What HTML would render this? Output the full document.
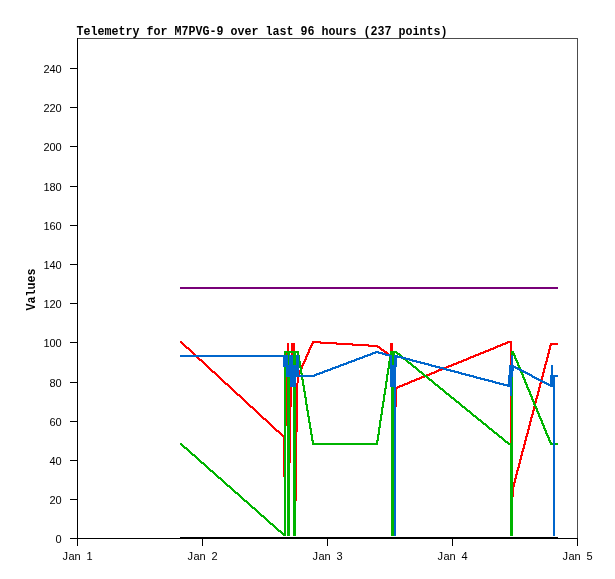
<!DOCTYPE html>
<html lang="en">
<head>
<meta charset="utf-8">
<title>Telemetry for M7PVG-9 over last 96 hours (237 points)</title>
<style>
html,body{margin:0;padding:0;background:#fff;}
body{width:615px;height:579px;overflow:hidden;}
svg{display:block;}
text{font-family:"Liberation Mono","DejaVu Sans Mono",monospace;fill:#000;}
.t{font-weight:bold;font-size:12px;}
.l{font-family:"Liberation Sans","DejaVu Sans",sans-serif;font-size:11px;}
</style>
</head>
<body>
<svg width="615" height="579" viewBox="0 0 615 579" shape-rendering="crispEdges">
<rect width="615" height="579" fill="#fff"/>
<g id="frame">
<rect x="77" y="38" width="501" height="1" fill="#4c4c4c"/>
<rect x="577" y="38" width="1" height="501" fill="#4c4c4c"/>
<rect x="77" y="38" width="1" height="508" fill="#000"/>
<rect x="70" y="538" width="508" height="1" fill="#000"/>
</g>
<g id="yticks" fill="#000">
<rect x="70" y="499" width="7" height="1"/>
<rect x="70" y="460" width="7" height="1"/>
<rect x="70" y="421" width="7" height="1"/>
<rect x="70" y="382" width="7" height="1"/>
<rect x="70" y="342" width="7" height="1"/>
<rect x="70" y="303" width="7" height="1"/>
<rect x="70" y="264" width="7" height="1"/>
<rect x="70" y="225" width="7" height="1"/>
<rect x="70" y="186" width="7" height="1"/>
<rect x="70" y="146" width="7" height="1"/>
<rect x="70" y="107" width="7" height="1"/>
<rect x="70" y="68" width="7" height="1"/>
</g>
<g id="xticks" fill="#000">
<rect x="202" y="539" width="1" height="7"/>
<rect x="327" y="539" width="1" height="7"/>
<rect x="452" y="539" width="1" height="7"/>
<rect x="577" y="539" width="1" height="7"/>
</g>
<g id="series">
<path fill="#ff0000" d="M180 341h2v1h-2zM312 341h9v1h-9zM507 341h5v1h-5zM180 342h3v1h-3zM312 342h25v1h-25zM505 342h7v1h-7zM181 343h3v1h-3zM287 343h2v8h-2zM291 343h4v8h-4zM311 343h3v1h-3zM320 343h33v1h-33zM390 343h3v8h-3zM502 343h6v1h-6zM510 343h2v8h-2zM550 343h8v2h-8zM182 344h3v1h-3zM311 344h2v1h-2zM336 344h33v1h-33zM500 344h6v1h-6zM183 345h3v1h-3zM310 345h3v1h-3zM352 345h26v1h-26zM497 345h6v1h-6zM549 345h3v1h-3zM184 346h3v1h-3zM310 346h2v1h-2zM368 346h12v1h-12zM495 346h6v1h-6zM549 346h2v3h-2zM185 347h4v1h-4zM309 347h3v1h-3zM377 347h4v1h-4zM493 347h5v1h-5zM186 348h4v1h-4zM309 348h2v1h-2zM379 348h3v1h-3zM490 348h6v1h-6zM188 349h3v1h-3zM308 349h3v1h-3zM380 349h4v1h-4zM488 349h6v1h-6zM548 349h3v1h-3zM189 350h3v1h-3zM308 350h2v2h-2zM381 350h4v1h-4zM485 350h6v1h-6zM548 350h2v3h-2zM190 351h3v1h-3zM383 351h4v1h-4zM483 351h6v1h-6zM510 351h1v14h-1zM191 352h3v1h-3zM307 352h3v1h-3zM384 352h4v1h-4zM480 352h6v1h-6zM192 353h3v1h-3zM286 353h1v2h-1zM291 353h2v2h-2zM307 353h2v1h-2zM386 353h3v1h-3zM478 353h6v1h-6zM547 353h3v1h-3zM193 354h3v1h-3zM306 354h3v1h-3zM475 354h6v1h-6zM547 354h2v3h-2zM306 355h2v1h-2zM473 355h6v1h-6zM305 356h3v1h-3zM470 356h6v1h-6zM196 357h3v1h-3zM305 357h2v2h-2zM468 357h6v1h-6zM546 357h3v1h-3zM197 358h3v1h-3zM466 358h5v1h-5zM546 358h2v3h-2zM198 359h4v1h-4zM304 359h3v1h-3zM463 359h6v1h-6zM199 360h4v1h-4zM304 360h2v1h-2zM461 360h6v1h-6zM201 361h3v1h-3zM303 361h3v1h-3zM458 361h6v1h-6zM545 361h3v1h-3zM202 362h3v1h-3zM303 362h2v1h-2zM456 362h6v1h-6zM545 362h2v2h-2zM203 363h3v1h-3zM302 363h3v1h-3zM453 363h6v1h-6zM204 364h3v1h-3zM302 364h2v1h-2zM451 364h6v1h-6zM544 364h3v1h-3zM205 365h3v1h-3zM301 365h3v1h-3zM448 365h6v1h-6zM544 365h2v3h-2zM206 366h3v1h-3zM301 366h2v1h-2zM446 366h6v1h-6zM207 367h3v1h-3zM302 367h1v2h-1zM444 367h5v1h-5zM208 368h3v1h-3zM543 368h3v1h-3zM209 369h3v1h-3zM438 369h5v1h-5zM543 369h2v3h-2zM210 370h3v1h-3zM299 370h1v5h-1zM436 370h6v1h-6zM211 371h4v1h-4zM434 371h5v1h-5zM212 372h4v1h-4zM431 372h6v1h-6zM542 372h3v1h-3zM214 373h3v1h-3zM429 373h6v1h-6zM542 373h2v3h-2zM215 374h3v1h-3zM426 374h6v1h-6zM216 375h3v1h-3zM427 375h3v1h-3zM217 376h3v1h-3zM421 376h3v1h-3zM541 376h3v1h-3zM218 377h3v1h-3zM286 377h1v49h-1zM297 377h2v6h-2zM419 377h6v1h-6zM541 377h2v3h-2zM219 378h3v1h-3zM416 378h6v1h-6zM220 379h3v1h-3zM414 379h6v1h-6zM221 380h3v1h-3zM411 380h6v1h-6zM222 381h3v1h-3zM409 381h6v1h-6zM223 382h3v1h-3zM407 382h5v1h-5zM540 382h2v1h-2zM224 383h4v1h-4zM296 383h2v49h-2zM404 383h6v1h-6zM539 383h3v1h-3zM225 384h4v1h-4zM402 384h6v1h-6zM539 384h2v3h-2zM227 385h3v1h-3zM399 385h6v1h-6zM228 386h3v1h-3zM397 386h6v1h-6zM229 387h3v1h-3zM290 387h2v20h-2zM396 387h4v1h-4zM538 387h3v1h-3zM230 388h3v1h-3zM396 388h2v1h-2zM538 388h2v3h-2zM231 389h3v1h-3zM396 389h1v18h-1zM232 390h3v1h-3zM233 391h3v1h-3zM537 391h3v1h-3zM234 392h3v1h-3zM537 392h2v3h-2zM235 393h3v1h-3zM236 394h4v1h-4zM237 395h4v1h-4zM536 395h3v1h-3zM239 396h3v1h-3zM510 396h1v47h-1zM536 396h2v2h-2zM240 397h3v1h-3zM241 398h3v1h-3zM535 398h3v1h-3zM242 399h3v1h-3zM535 399h2v4h-2zM243 400h3v1h-3zM244 401h3v1h-3zM245 402h3v1h-3zM246 403h3v1h-3zM535 403h1v1h-1zM247 404h3v1h-3zM248 405h3v1h-3zM249 406h4v1h-4zM533 406h1v1h-1zM250 407h4v1h-4zM290 407h1v56h-1zM533 407h2v3h-2zM252 408h3v1h-3zM253 409h3v1h-3zM254 410h3v1h-3zM532 410h3v1h-3zM255 411h3v1h-3zM532 411h2v3h-2zM256 412h3v1h-3zM257 413h3v1h-3zM258 414h3v1h-3zM531 414h3v1h-3zM259 415h3v1h-3zM531 415h2v2h-2zM260 416h3v1h-3zM261 417h3v1h-3zM530 417h3v1h-3zM262 418h4v1h-4zM530 418h2v3h-2zM263 419h4v1h-4zM265 420h3v1h-3zM266 421h3v1h-3zM529 421h3v1h-3zM267 422h3v1h-3zM529 422h2v3h-2zM268 423h3v1h-3zM269 424h3v1h-3zM270 425h3v1h-3zM528 425h3v1h-3zM271 426h3v1h-3zM528 426h2v3h-2zM272 427h3v1h-3zM273 428h3v1h-3zM274 429h3v1h-3zM527 429h3v1h-3zM275 430h4v1h-4zM527 430h2v3h-2zM276 431h4v1h-4zM278 432h3v1h-3zM296 432h1v69h-1zM279 433h3v1h-3zM526 433h3v1h-3zM280 434h3v1h-3zM526 434h2v2h-2zM281 435h3v1h-3zM282 436h2v1h-2zM525 436h3v1h-3zM283 437h1v40h-1zM525 437h2v3h-2zM524 440h3v1h-3zM524 441h2v3h-2zM523 444h3v1h-3zM523 445h2v3h-2zM522 448h3v1h-3zM522 449h2v2h-2zM521 451h3v1h-3zM521 452h2v3h-2zM520 455h3v1h-3zM520 456h2v3h-2zM519 459h3v1h-3zM519 460h2v3h-2zM518 463h3v1h-3zM518 464h2v3h-2zM517 467h3v1h-3zM517 468h2v2h-2zM516 470h3v1h-3zM516 471h2v3h-2zM515 474h3v1h-3zM515 475h2v3h-2zM514 478h3v1h-3zM514 479h2v3h-2zM513 482h3v1h-3zM513 483h2v4h-2zM513 487h1v10h-1z"/>
<path fill="#00b400" d="M284 351h15v2h-15zM390 351h7v1h-7zM511 351h3v2h-3zM390 352h8v1h-8zM284 353h2v2h-2zM287 353h3v2h-3zM293 353h3v12h-3zM297 353h2v2h-2zM390 353h5v2h-5zM396 353h4v1h-4zM511 353h4v2h-4zM397 354h4v1h-4zM288 355h1v10h-1zM299 355h1v6h-1zM392 355h2v10h-2zM399 355h3v1h-3zM513 355h3v1h-3zM402 356h1v1h-1zM514 356h2v2h-2zM389 357h1v4h-1zM514 358h3v1h-3zM403 359h2v1h-2zM515 359h2v1h-2zM405 360h3v1h-3zM515 360h3v1h-3zM299 361h2v6h-2zM388 361h2v7h-2zM406 361h3v1h-3zM516 361h2v1h-2zM407 362h4v1h-4zM516 362h3v1h-3zM408 363h4v1h-4zM517 363h2v2h-2zM410 364h3v1h-3zM411 365h3v1h-3zM517 365h3v1h-3zM412 366h4v1h-4zM518 366h2v1h-2zM284 367h2v166h-2zM299 367h3v1h-3zM413 367h4v1h-4zM518 367h3v1h-3zM300 368h2v5h-2zM387 368h3v1h-3zM415 368h3v1h-3zM520 368h1v1h-1zM387 369h2v5h-2zM416 369h3v1h-3zM417 370h3v1h-3zM418 371h4v1h-4zM520 371h1v1h-1zM419 372h4v1h-4zM520 372h3v1h-3zM300 373h3v1h-3zM421 373h3v1h-3zM521 373h2v1h-2zM301 374h2v1h-2zM386 374h3v1h-3zM422 374h3v1h-3zM521 374h3v1h-3zM386 375h2v6h-2zM423 375h4v1h-4zM522 375h2v2h-2zM424 376h4v1h-4zM287 377h3v159h-3zM301 377h2v2h-2zM426 377h3v1h-3zM512 377h1v19h-1zM522 377h3v1h-3zM427 378h3v1h-3zM523 378h2v1h-2zM301 379h3v1h-3zM428 379h4v1h-4zM523 379h3v1h-3zM302 380h2v5h-2zM429 380h4v1h-4zM524 380h2v2h-2zM385 381h3v1h-3zM431 381h3v1h-3zM385 382h2v6h-2zM432 382h3v1h-3zM524 382h3v1h-3zM433 383h3v1h-3zM525 383h2v1h-2zM434 384h4v1h-4zM525 384h3v1h-3zM302 385h3v1h-3zM435 385h4v1h-4zM526 385h2v2h-2zM303 386h2v5h-2zM437 386h3v1h-3zM293 387h3v149h-3zM391 387h3v149h-3zM438 387h3v1h-3zM526 387h3v1h-3zM384 388h3v1h-3zM439 388h4v1h-4zM527 388h2v1h-2zM384 389h2v5h-2zM440 389h4v1h-4zM527 389h3v1h-3zM442 390h3v1h-3zM528 390h2v1h-2zM303 391h3v1h-3zM443 391h3v1h-3zM528 391h3v1h-3zM304 392h2v5h-2zM444 392h3v1h-3zM529 392h2v2h-2zM445 393h4v1h-4zM383 394h3v1h-3zM446 394h4v1h-4zM529 394h3v1h-3zM383 395h2v6h-2zM448 395h3v1h-3zM530 395h2v1h-2zM449 396h3v1h-3zM511 396h2v47h-2zM530 396h3v1h-3zM304 397h3v1h-3zM450 397h4v1h-4zM531 397h2v2h-2zM305 398h2v6h-2zM451 398h4v1h-4zM453 399h3v1h-3zM531 399h3v1h-3zM454 400h3v1h-3zM532 400h2v1h-2zM382 401h3v1h-3zM455 401h4v1h-4zM532 401h3v1h-3zM382 402h2v5h-2zM456 402h4v1h-4zM533 402h2v2h-2zM458 403h3v1h-3zM305 404h3v1h-3zM459 404h3v1h-3zM533 404h3v1h-3zM306 405h2v5h-2zM460 405h3v1h-3zM534 405h2v1h-2zM461 406h4v1h-4zM534 406h3v1h-3zM381 407h3v1h-3zM462 407h4v1h-4zM535 407h2v1h-2zM381 408h2v6h-2zM464 408h3v1h-3zM535 408h3v1h-3zM465 409h3v1h-3zM536 409h2v2h-2zM306 410h3v1h-3zM466 410h4v1h-4zM307 411h2v5h-2zM467 411h4v1h-4zM536 411h3v1h-3zM469 412h3v1h-3zM537 412h2v1h-2zM470 413h3v1h-3zM537 413h3v1h-3zM380 414h3v1h-3zM471 414h3v1h-3zM538 414h2v2h-2zM380 415h2v5h-2zM472 415h4v1h-4zM307 416h3v1h-3zM473 416h4v1h-4zM538 416h3v1h-3zM308 417h2v5h-2zM475 417h3v1h-3zM539 417h2v1h-2zM476 418h3v1h-3zM539 418h3v1h-3zM477 419h4v1h-4zM540 419h2v1h-2zM379 420h3v1h-3zM478 420h4v1h-4zM540 420h3v1h-3zM379 421h2v6h-2zM480 421h3v1h-3zM541 421h2v2h-2zM308 422h3v1h-3zM481 422h3v1h-3zM309 423h2v5h-2zM482 423h4v1h-4zM541 423h3v1h-3zM483 424h4v1h-4zM542 424h2v1h-2zM485 425h3v1h-3zM542 425h3v1h-3zM486 426h3v1h-3zM543 426h2v2h-2zM378 427h3v1h-3zM487 427h3v1h-3zM309 428h3v1h-3zM378 428h2v6h-2zM488 428h4v1h-4zM543 428h3v1h-3zM310 429h2v5h-2zM489 429h4v1h-4zM544 429h2v1h-2zM491 430h3v1h-3zM544 430h3v1h-3zM492 431h3v1h-3zM545 431h2v2h-2zM493 432h4v1h-4zM494 433h4v1h-4zM545 433h3v1h-3zM310 434h3v1h-3zM377 434h3v1h-3zM496 434h3v1h-3zM546 434h2v1h-2zM311 435h2v5h-2zM377 435h2v5h-2zM497 435h3v1h-3zM546 435h3v1h-3zM498 436h4v1h-4zM547 436h2v1h-2zM499 437h4v1h-4zM547 437h3v1h-3zM501 438h3v1h-3zM548 438h2v2h-2zM502 439h3v1h-3zM311 440h3v1h-3zM376 440h3v1h-3zM503 440h3v1h-3zM548 440h3v1h-3zM312 441h2v2h-2zM376 441h2v2h-2zM504 441h4v1h-4zM549 441h2v1h-2zM505 442h4v1h-4zM549 442h3v1h-3zM180 443h2v1h-2zM312 443h66v2h-66zM507 443h6v1h-6zM550 443h3v2h-3zM555 443h3v2h-3zM180 444h3v1h-3zM508 444h5v1h-5zM181 445h3v1h-3zM510 445h3v91h-3zM182 446h3v1h-3zM183 447h4v1h-4zM184 448h4v1h-4zM186 449h3v1h-3zM187 450h3v1h-3zM188 451h3v1h-3zM189 452h3v1h-3zM190 453h3v1h-3zM191 454h4v1h-4zM192 455h4v1h-4zM194 456h3v1h-3zM195 457h3v1h-3zM196 458h3v1h-3zM197 459h3v1h-3zM198 460h3v1h-3zM199 461h3v1h-3zM200 462h4v1h-4zM201 463h4v1h-4zM203 464h3v1h-3zM204 465h3v1h-3zM205 466h3v1h-3zM206 467h3v1h-3zM207 468h3v1h-3zM208 469h3v1h-3zM209 470h4v1h-4zM210 471h4v1h-4zM212 472h3v1h-3zM213 473h3v1h-3zM214 474h3v1h-3zM215 475h3v1h-3zM216 476h3v1h-3zM217 477h4v1h-4zM218 478h4v1h-4zM220 479h3v1h-3zM221 480h3v1h-3zM222 481h3v1h-3zM223 482h3v1h-3zM224 483h3v1h-3zM225 484h3v1h-3zM226 485h4v1h-4zM227 486h4v1h-4zM229 487h3v1h-3zM230 488h3v1h-3zM231 489h3v1h-3zM232 490h3v1h-3zM233 491h3v1h-3zM234 492h4v1h-4zM235 493h4v1h-4zM237 494h3v1h-3zM238 495h3v1h-3zM239 496h3v1h-3zM240 497h3v1h-3zM241 498h3v1h-3zM242 499h3v1h-3zM243 500h4v1h-4zM244 501h4v1h-4zM246 502h3v1h-3zM247 503h3v1h-3zM248 504h3v1h-3zM249 505h3v1h-3zM250 506h3v1h-3zM251 507h4v1h-4zM252 508h4v1h-4zM254 509h3v1h-3zM255 510h3v1h-3zM256 511h3v1h-3zM257 512h3v1h-3zM258 513h3v1h-3zM259 514h3v1h-3zM260 515h4v1h-4zM261 516h4v1h-4zM263 517h3v1h-3zM264 518h3v1h-3zM265 519h3v1h-3zM266 520h3v1h-3zM267 521h3v1h-3zM268 522h3v1h-3zM269 523h4v1h-4zM270 524h4v1h-4zM272 525h3v1h-3zM273 526h3v1h-3zM274 527h3v1h-3zM275 528h3v1h-3zM276 529h3v1h-3zM277 530h4v1h-4zM278 531h4v1h-4zM280 532h3v1h-3zM281 533h5v1h-5zM282 534h4v1h-4zM283 535h3v1h-3z"/>
<path fill="#0066cc" d="M375 351h4v1h-4zM372 352h11v1h-11zM370 353h6v1h-6zM378 353h8v1h-8zM367 354h6v1h-6zM382 354h8v1h-8zM180 355h108v2h-108zM289 355h4v10h-4zM296 355h3v10h-3zM364 355h7v1h-7zM385 355h7v1h-7zM394 355h4v1h-4zM511 355h2v10h-2zM362 356h6v1h-6zM389 356h3v1h-3zM394 356h8v1h-8zM283 357h5v8h-5zM359 357h6v1h-6zM390 357h2v8h-2zM394 357h12v1h-12zM356 358h7v1h-7zM394 358h3v7h-3zM401 358h9v1h-9zM354 359h6v1h-6zM405 359h8v1h-8zM351 360h6v1h-6zM409 360h8v1h-8zM348 361h7v1h-7zM412 361h9v1h-9zM346 362h6v1h-6zM416 362h9v1h-9zM343 363h6v1h-6zM420 363h9v1h-9zM340 364h7v1h-7zM424 364h8v1h-8zM283 365h16v2h-16zM338 365h6v1h-6zM390 365h7v2h-7zM428 365h8v1h-8zM509 365h5v1h-5zM551 365h2v10h-2zM335 366h6v1h-6zM431 366h9v1h-9zM509 366h7v1h-7zM286 367h13v8h-13zM332 367h7v1h-7zM390 367h6v20h-6zM435 367h9v1h-9zM509 367h9v1h-9zM330 368h6v1h-6zM439 368h8v1h-8zM509 368h5v3h-5zM515 368h5v1h-5zM327 369h6v1h-6zM443 369h8v1h-8zM517 369h5v1h-5zM324 370h7v1h-7zM446 370h9v1h-9zM519 370h5v1h-5zM322 371h6v1h-6zM450 371h9v1h-9zM509 371h4v4h-4zM521 371h5v1h-5zM319 372h6v1h-6zM454 372h8v1h-8zM523 372h5v1h-5zM316 373h7v1h-7zM458 373h8v1h-8zM525 373h5v1h-5zM314 374h6v1h-6zM461 374h9v1h-9zM527 374h5v1h-5zM286 375h31v1h-31zM465 375h9v1h-9zM508 375h5v2h-5zM529 375h4v1h-4zM550 375h8v2h-8zM286 376h29v1h-29zM469 376h8v1h-8zM531 376h4v1h-4zM290 377h6v10h-6zM473 377h8v1h-8zM508 377h4v7h-4zM532 377h5v1h-5zM550 377h5v7h-5zM476 378h9v1h-9zM534 378h5v1h-5zM480 379h9v1h-9zM536 379h5v1h-5zM484 380h9v1h-9zM538 380h5v1h-5zM488 381h8v1h-8zM540 381h5v1h-5zM492 382h8v1h-8zM542 382h5v1h-5zM495 383h9v1h-9zM544 383h5v1h-5zM499 384h13v1h-13zM546 384h9v1h-9zM503 385h9v1h-9zM548 385h7v1h-7zM507 386h5v1h-5zM550 386h5v1h-5zM394 387h2v149h-2zM510 387h2v9h-2zM553 387h2v149h-2z"/>
<path fill="#780078" d="M180 287h378v2h-378z"/>
<path fill="#000000" d="M180 537h378v2h-378z"/>
</g>
<g id="labels">
<text class="t" x="76.5" y="35" textLength="371" lengthAdjust="spacingAndGlyphs">Telemetry for M7PVG-9 over last 96 hours (237 points)</text>
<text class="l" x="55.5" y="543">0</text>
<text class="l" x="49.5 55.5" y="504">20</text>
<text class="l" x="49.5 55.5" y="465">40</text>
<text class="l" x="49.5 55.5" y="426">60</text>
<text class="l" x="49.5 55.5" y="387">80</text>
<text class="l" x="43.5 49.5 55.5" y="347">100</text>
<text class="l" x="43.5 49.5 55.5" y="308">120</text>
<text class="l" x="43.5 49.5 55.5" y="269">140</text>
<text class="l" x="43.5 49.5 55.5" y="230">160</text>
<text class="l" x="43.5 49.5 55.5" y="191">180</text>
<text class="l" x="43.5 49.5 55.5" y="151">200</text>
<text class="l" x="43.5 49.5 55.5" y="112">220</text>
<text class="l" x="43.5 49.5 55.5" y="73">240</text>
<text class="l" x="62.5 68.5 74.5 80.5 86.5" y="560">Jan 1</text>
<text class="l" x="187.5 193.5 199.5 205.5 211.5" y="560">Jan 2</text>
<text class="l" x="312.5 318.5 324.5 330.5 336.5" y="560">Jan 3</text>
<text class="l" x="437.5 443.5 449.5 455.5 461.5" y="560">Jan 4</text>
<text class="l" x="562.5 568.5 574.5 580.5 586.5" y="560">Jan 5</text>
<text class="t" transform="translate(35 310.5) rotate(-90)" x="0" y="0" textLength="42" lengthAdjust="spacingAndGlyphs">Values</text>
</g>
</svg>
</body>
</html>
